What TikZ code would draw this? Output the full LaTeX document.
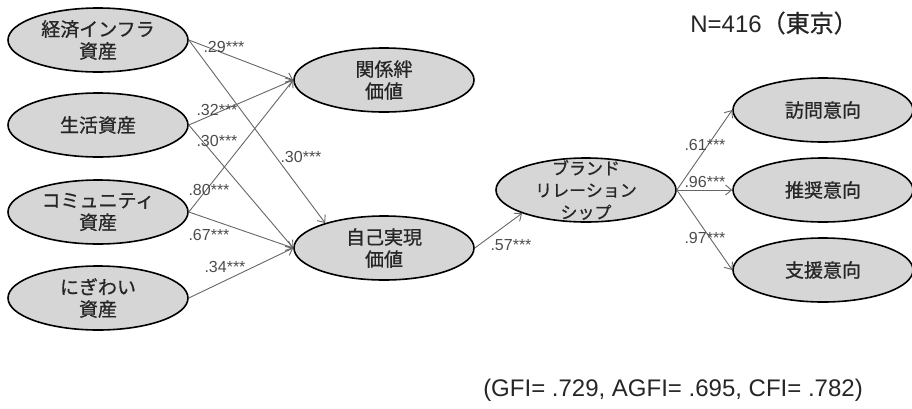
\documentclass[tikz,border=0pt]{standalone}
\usepackage{fontspec}
\setmainfont{Liberation Sans}
\newfontfamily\jp{Noto Sans CJK JP}[FakeBold=0.8]
\usetikzlibrary{shapes.geometric,arrows.meta}
\tikzset{
  latent/.style={ellipse, draw=black, line width=1.6pt, fill=black!16,
    minimum width=180pt, minimum height=64pt, inner sep=0pt, align=center,
    text=black!85, font=\jp\fontsize{19}{22}\selectfont},
  eff/.style={draw=black!60, line width=0.9pt, -{Straight Barb[length=6pt,width=10pt]}},
  coef/.style={text=black!70, inner sep=0pt, font=\fontsize{16}{16}\selectfont}
}
\begin{document}
\begin{tikzpicture}[x=1pt,y=-1pt]
\useasboundingbox (0,0) rectangle (912,408);
% assets
\node[latent] (infra) at (98,40)  {経済インフラ\\資産};
\node[latent] (life)  at (98,125) {生活資産};
\node[latent] (comm)  at (98,212) {コミュニティ\\資産};
\node[latent] (bust)  at (98,298) {にぎわい\\資産};
% values
\node[latent] (bond) at (384,80)  {関係絆\\価値};
\node[latent] (self) at (384,248) {自己実現\\価値};
% brand relationship
\node[latent, label={[font=\jp\fontsize{17}{22}\selectfont, text=black!85, align=center]center:ブランド\\リレーション\\シップ}] (brand) at (586,190) {};
% intentions
\node[latent] (visit)   at (823,110) {訪問意向};
\node[latent] (recom)   at (823,190) {推奨意向};
\node[latent] (support) at (823,270) {支援意向};
\draw[eff] (infra.east) -- (bond.west);
\draw[eff] (infra.east) -- (self.157);
\draw[eff] (life.east) -- (bond.west);
\draw[eff] (life.east) -- (self.west);
\draw[eff] (comm.east) -- (bond.west);
\draw[eff] (comm.east) -- (self.west);
\draw[eff] (bust.east) -- (self.west);
\draw[eff] (self.east) -- (brand.200);
\draw[eff] (brand.east) -- (visit.west);
\draw[eff] (brand.east) -- (recom.west);
\draw[eff] (brand.east) -- (support.west);
% coefficients
\node[coef] (c29) at (224,47)  {.29***};
\node[coef] (c32) at (217,110) {.32***};
\node[coef] (c30a) at (217,141) {.30***};
\node[coef] (c30b) at (301,157) {.30***};
\node[coef] (c80) at (209,190) {.80***};
\node[coef] (c67) at (209,235) {.67***};
\node[coef] (c34) at (225,267) {.34***};
\node[coef] (c57) at (511,245) {.57***};
\node[coef] (c61) at (705,145) {.61***};
\node[coef] (c96) at (705,182) {.96***};
\node[coef] (c97) at (705,238) {.97***};
% sample and fit
\node[font=\fontsize{24}{24}\selectfont, text=black!85] (sample) at (774,23) {N=416{\jp （東京）}};
\node[font=\fontsize{24}{24}\selectfont, text=black!85] (fit) at (673,390) {(GFI= .729, AGFI= .695, CFI= .782)};
\end{tikzpicture}
\end{document}
